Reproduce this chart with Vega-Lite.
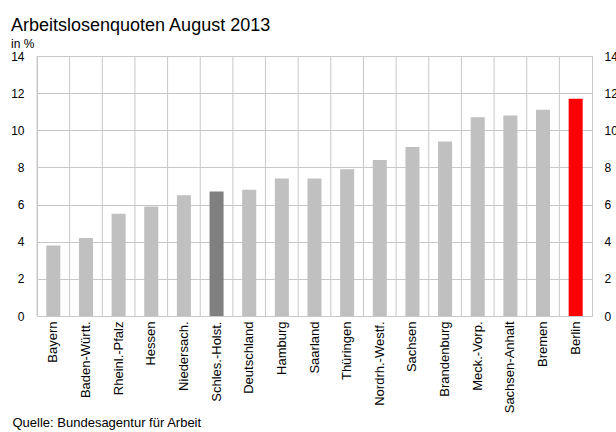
{
  "$schema": "https://vega.github.io/schema/vega-lite/v6.json",
  "autosize": "none",
  "width": 555,
  "height": 260,
  "padding": {"left": 37, "top": 56, "right": 24, "bottom": 116},
  "background": "white",
  "title": {
    "text": "Arbeitslosenquoten August 2013",
    "subtitle": "in %",
    "anchor": "start",
    "frame": "group",
    "dx": -26,
    "offset": 0,
    "font": "Liberation Sans",
    "fontSize": 18,
    "fontWeight": "normal",
    "color": "black",
    "subtitleFont": "Liberation Sans",
    "subtitleFontSize": 12,
    "subtitleColor": "black",
    "subtitlePadding": 4
  },
  "data": {
    "values": [
      {"land": "Bayern", "quote": 3.8, "gruppe": "Land"},
      {"land": "Baden-Württ.", "quote": 4.2, "gruppe": "Land"},
      {"land": "Rheinl.-Pfalz", "quote": 5.5, "gruppe": "Land"},
      {"land": "Hessen", "quote": 5.9, "gruppe": "Land"},
      {"land": "Niedersach.", "quote": 6.5, "gruppe": "Land"},
      {"land": "Schles.-Holst.", "quote": 6.7, "gruppe": "SH"},
      {"land": "Deutschland", "quote": 6.8, "gruppe": "Land"},
      {"land": "Hamburg", "quote": 7.4, "gruppe": "Land"},
      {"land": "Saarland", "quote": 7.4, "gruppe": "Land"},
      {"land": "Thüringen", "quote": 7.9, "gruppe": "Land"},
      {"land": "Nordrh.-Westf.", "quote": 8.4, "gruppe": "Land"},
      {"land": "Sachsen", "quote": 9.1, "gruppe": "Land"},
      {"land": "Brandenburg", "quote": 9.4, "gruppe": "Land"},
      {"land": "Meck.-Vorp.", "quote": 10.7, "gruppe": "Land"},
      {"land": "Sachsen-Anhalt", "quote": 10.8, "gruppe": "Land"},
      {"land": "Bremen", "quote": 11.1, "gruppe": "Land"},
      {"land": "Berlin", "quote": 11.7, "gruppe": "Berlin"}
    ]
  },
  "config": {
    "font": "Liberation Sans",
    "view": {"stroke": "#c8c8c8", "strokeWidth": 1},
    "axis": {
      "labelFont": "Liberation Sans",
      "labelColor": "black",
      "titleFont": "Liberation Sans",
      "titleColor": "black",
      "domain": false,
      "ticks": false
    }
  },
  "encoding": {
    "x": {
      "field": "land", "type": "nominal", "sort": null,
      "scale": {"paddingInner": 0, "paddingOuter": 0},
      "axis": {
        "labelAngle": -90,
        "labelFontSize": 13,
        "labelPadding": 5,
        "grid": false,
        "title": "Quelle: Bundesagentur für Arbeit",
        "titleX": -25,
        "titleY": 110,
        "titleAlign": "left",
        "titleAnchor": "start",
        "titleBaseline": "alphabetic",
        "titleFontSize": 13,
        "titleFontWeight": "normal"
      }
    }
  },
  "layer": [
    {
      "mark": {"type": "rule", "color": "#c8c8c8", "strokeWidth": 1},
      "encoding": {
        "x": {
          "field": "land", "type": "nominal", "sort": null, "bandPosition": 0,
          "scale": {"paddingInner": 0, "paddingOuter": 0},
          "axis": {
            "labelAngle": -90,
            "labelFontSize": 13,
            "labelPadding": 5,
            "grid": false,
            "title": "Quelle: Bundesagentur für Arbeit",
            "titleX": -25,
            "titleY": 110,
            "titleAlign": "left",
            "titleAnchor": "start",
            "titleBaseline": "alphabetic",
            "titleFontSize": 13,
            "titleFontWeight": "normal"
          }
        }
      }
    },
    {
      "mark": {"type": "bar", "width": {"band": 0.43}},
      "encoding": {
        "y": {
          "field": "quote", "type": "quantitative",
          "scale": {"domain": [0, 14], "nice": false},
          "axis": {
            "orient": "left",
            "values": [0, 2, 4, 6, 8, 10, 12, 14],
            "grid": true,
            "gridColor": "#c8c8c8",
            "labelPadding": 13,
            "labelFontSize": 12,
            "title": null
          }
        },
        "color": {
          "field": "gruppe", "type": "nominal", "legend": null,
          "scale": {"domain": ["Land", "SH", "Berlin"], "range": ["#c0c0c0", "#808080", "#ff0000"]}
        }
      }
    },
    {
      "mark": {"type": "bar", "opacity": 0, "width": {"band": 0.43}},
      "encoding": {
        "y": {
          "field": "quote", "type": "quantitative",
          "axis": {
            "orient": "right",
            "values": [0, 2, 4, 6, 8, 10, 12, 14],
            "grid": false,
            "labelPadding": 12,
            "labelFontSize": 12,
            "title": null
          }
        }
      }
    }
  ],
  "resolve": {"axis": {"y": "independent"}}
}
